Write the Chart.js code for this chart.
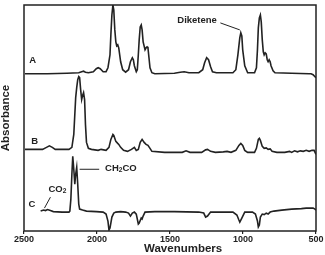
<!DOCTYPE html>
<html lang="en">
<head>
  <meta charset="UTF-8">
  <title>IR spectra A, B, C</title>
  <script src="https://cdn.jsdelivr.net/npm/chart.js"></script>
  <style>
    body { margin: 0; background: #fff; }
    #wrap { width: 325px; height: 255px; }
  </style>
</head>
<body>
  <div id="wrap"><canvas id="irChart" width="325" height="255"></canvas></div>

  <script>
    // trace A (top, diketene)
    var waveA = [
      2493, 2340, 2206, 2125, 2105, 2092, 2079, 2059, 2025, 2005,
      1992, 1978, 1958, 1938, 1925, 1911, 1905, 1898, 1891, 1885,
      1878, 1871, 1865, 1858, 1851, 1838, 1824, 1804, 1784, 1771,
      1758, 1751, 1744, 1731, 1724, 1717, 1711, 1704, 1697, 1691,
      1684, 1671, 1664, 1657, 1651, 1644, 1637, 1624, 1604, 1470,
      1430, 1403, 1370, 1303, 1276, 1263, 1249, 1236, 1222, 1209,
      1182, 1069, 1049, 1035, 1022, 1015, 1008, 1002, 988, 968,
      921, 908, 901, 895, 888, 881, 875, 868, 861, 855,
      848, 841, 834, 828, 821, 814, 808, 794, 781, 667,
      547, 534, 520, 507, 500
    ];
    var absA = [
      1.58, 1.58, 1.585, 1.59, 1.60, 1.605, 1.595, 1.59, 1.60, 1.63,
      1.64, 1.63, 1.60, 1.60, 1.64, 1.77, 1.97, 2.17, 2.27, 2.22,
      2.02, 1.90, 1.86, 1.87, 1.84, 1.70, 1.62, 1.595, 1.62, 1.70,
      1.74, 1.72, 1.66, 1.60, 1.62, 1.77, 1.92, 2.05, 2.07, 2.02,
      1.90, 1.82, 1.84, 1.85, 1.84, 1.74, 1.64, 1.59, 1.58, 1.585,
      1.595, 1.60, 1.59, 1.59, 1.62, 1.69, 1.74, 1.72, 1.65, 1.60,
      1.59, 1.59, 1.62, 1.77, 1.94, 1.99, 1.96, 1.82, 1.66, 1.59,
      1.59, 1.64, 1.82, 2.04, 2.14, 2.17, 2.10, 1.92, 1.80, 1.77,
      1.79, 1.78, 1.72, 1.70, 1.72, 1.70, 1.66, 1.61, 1.59, 1.585,
      1.58, 1.58, 1.57, 1.55, 1.54
    ];

    // trace B (middle)
    var waveB = [
      2493, 2373, 2346, 2326, 2306, 2286, 2192, 2172, 2159, 2152,
      2146, 2139, 2132, 2125, 2119, 2112, 2105, 2099, 2092, 2085,
      2079, 2072, 2059, 2038, 1992, 1972, 1938, 1918, 1905, 1891,
      1885, 1871, 1858, 1851, 1838, 1818, 1791, 1764, 1744, 1731,
      1717, 1704, 1691, 1677, 1664, 1651, 1637, 1624, 1537, 1416,
      1390, 1363, 1283, 1256, 1243, 1222, 1189, 1135, 1109, 1082,
      1049, 1028, 1015, 1002, 988, 968, 921, 908, 895, 888,
      881, 868, 855, 841, 828, 814, 801, 768, 714, 681,
      667, 647, 627, 607, 587, 567, 547, 527, 513, 500
    ];
    var absB = [
      0.82, 0.82, 0.84, 0.855, 0.84, 0.82, 0.82, 0.84, 0.97, 1.17,
      1.34, 1.44, 1.52, 1.55, 1.54, 1.42, 1.32, 1.36, 1.39, 1.32,
      1.07, 0.89, 0.83, 0.82, 0.81, 0.82, 0.81, 0.84, 0.92, 0.97,
      0.96, 0.90, 0.88, 0.87, 0.84, 0.81, 0.80, 0.82, 0.84, 0.81,
      0.82, 0.89, 0.92, 0.89, 0.87, 0.86, 0.83, 0.80, 0.79, 0.79,
      0.805, 0.79, 0.79, 0.815, 0.82, 0.80, 0.79, 0.795, 0.80, 0.79,
      0.81, 0.86, 0.88, 0.86, 0.81, 0.79, 0.79, 0.83, 0.92, 0.93,
      0.91, 0.85, 0.83, 0.835, 0.82, 0.825, 0.80, 0.79, 0.79, 0.80,
      0.79, 0.805, 0.795, 0.805, 0.80, 0.81, 0.80, 0.81, 0.81, 0.77
    ];

    // trace C (bottom, difference spectrum)
    var waveC = [
      2386, 2366, 2353, 2339, 2319, 2299, 2239, 2192, 2186, 2179,
      2172, 2166, 2159, 2152, 2146, 2139, 2132, 2125, 2119, 2099,
      2072, 2005, 1958, 1938, 1925, 1918, 1911, 1898, 1885, 1871,
      1838, 1804, 1784, 1771, 1758, 1744, 1731, 1717, 1711, 1697,
      1691, 1684, 1671, 1604, 1470, 1303, 1269, 1256, 1243, 1222,
      1135, 1069, 1042, 1028, 1022, 1008, 988, 935, 915, 901,
      895, 888, 881, 868, 855, 841, 828, 814, 788, 734,
      667, 600, 567, 520, 507, 500
    ];
    var absC = [
      0.20, 0.21, 0.205, 0.215, 0.205, 0.195, 0.19, 0.19, 0.20, 0.32,
      0.57, 0.75, 0.62, 0.47, 0.57, 0.64, 0.47, 0.27, 0.22, 0.21,
      0.20, 0.195, 0.19, 0.17, 0.10, 0.01, 0.03, 0.14, 0.18, 0.19,
      0.195, 0.19, 0.18, 0.15, 0.18, 0.19, 0.17, 0.07, 0.08, 0.13,
      0.12, 0.15, 0.19, 0.195, 0.195, 0.19, 0.18, 0.14, 0.15, 0.19,
      0.19, 0.19, 0.16, 0.11, 0.09, 0.13, 0.19, 0.19, 0.17, 0.10,
      0.04, 0.06, 0.14, 0.17, 0.165, 0.18, 0.17, 0.19, 0.20, 0.21,
      0.22, 0.225, 0.23, 0.23, 0.22, 0.21
    ];

    var xTicks = [2500, 2000, 1500, 1000, 500];

    var ink = "#222";
    var family = "'Liberation Sans', Arial, sans-serif";

    function toPoints(w, a) {
      return w.map(function (v, i) { return { x: v, y: a[i] }; });
    }

    function trace(w, a) {
      return {
        data: toPoints(w, a),
        borderColor: ink,
        borderWidth: 1.6,
        pointRadius: 0,
        tension: 0,
        fill: false
      };
    }

    // draws text with a lowered small "2" (CH2CO, CO2)
    function subText(ctx, x, y, parts, size) {
      var cx = x;
      parts.forEach(function (p) {
        var s = p.sub ? size * 0.7 : size;
        ctx.font = "bold " + s + "px " + family;
        ctx.fillText(p.t, cx, p.sub ? y + size * 0.25 : y);
        cx += ctx.measureText(p.t).width;
      });
    }

    var notes = {
      id: "notes",
      afterDatasetsDraw: function (chart) {
        var ctx = chart.ctx, area = chart.chartArea;
        var xs = chart.scales.x, ys = chart.scales.y;
        function px(w) { return xs.getPixelForValue(w); }
        function py(a) { return ys.getPixelForValue(a); }

        ctx.save();
        ctx.strokeStyle = ink;
        ctx.lineWidth = 1.5;
        ctx.strokeRect(area.left, area.top, area.right - area.left, area.bottom - area.top);

        ctx.fillStyle = ink;
        ctx.textBaseline = "middle";
        ctx.textAlign = "center";
        ctx.font = "bold 9.5px " + family;
        ctx.fillText("A", px(2440), py(1.71));
        ctx.fillText("B", px(2426), py(0.90));
        ctx.fillText("C", px(2446), py(0.27));

        ctx.font = "bold 11.5px " + family;
        ctx.fillText("Wavenumbers", px(1410), area.bottom + 18);

        ctx.textAlign = "left";
        ctx.font = "bold 9.5px " + family;
        ctx.fillText("Diketene", px(1450), py(2.12));
        subText(ctx, px(1945), py(0.63), [{ t: "CH" }, { t: "2", sub: true }, { t: "CO" }], 9.5);
        subText(ctx, px(2333), py(0.42), [{ t: "CO" }, { t: "2", sub: true }], 9.5);

        ctx.lineWidth = 1;
        ctx.beginPath();
        ctx.moveTo(px(1155), py(2.09));
        ctx.lineTo(px(1022), py(2.02));
        ctx.moveTo(px(2119), py(0.62));
        ctx.lineTo(px(1985), py(0.62));
        ctx.moveTo(px(2319), py(0.34));
        ctx.lineTo(px(2360), py(0.23));
        ctx.stroke();
        ctx.restore();
      }
    };

    var ctx = document.getElementById("irChart").getContext("2d");
    var irChart = new Chart(ctx, {
      type: "line",
      data: {
        datasets: [trace(waveA, absA), trace(waveB, absB), trace(waveC, absC)]
      },
      options: {
        responsive: false,
        animation: false,
        devicePixelRatio: 1,
        layout: { padding: { left: 0, right: 9, top: 5, bottom: 10 } },
        plugins: { legend: { display: false }, tooltip: { enabled: false } },
        scales: {
          x: {
            type: "linear",
            reverse: true,
            min: 500,
            max: 2500,
            afterBuildTicks: function (scale) {
              scale.ticks = xTicks.map(function (v) { return { value: v }; });
            },
            ticks: {
              color: ink,
              padding: 1,
              maxRotation: 0,
              autoSkip: false,
              font: { family: family, size: 9, weight: "bold", lineHeight: 1 },
              callback: function (v) { return String(v); }
            },
            grid: { display: true, drawOnChartArea: false, drawTicks: true, tickLength: 3, color: ink, lineWidth: 1.2 },
            border: { display: false }
          },
          y: {
            min: 0,
            max: 2.27,
            ticks: { display: false },
            grid: { display: false },
            border: { display: false },
            title: {
              display: true,
              text: "Absorbance",
              color: ink,
              padding: { top: 0.5, bottom: 4 },
              font: { family: family, size: 11.5, weight: "bold", lineHeight: 1 }
            }
          }
        }
      },
      plugins: [notes]
    });
  </script>
</body>
</html>
